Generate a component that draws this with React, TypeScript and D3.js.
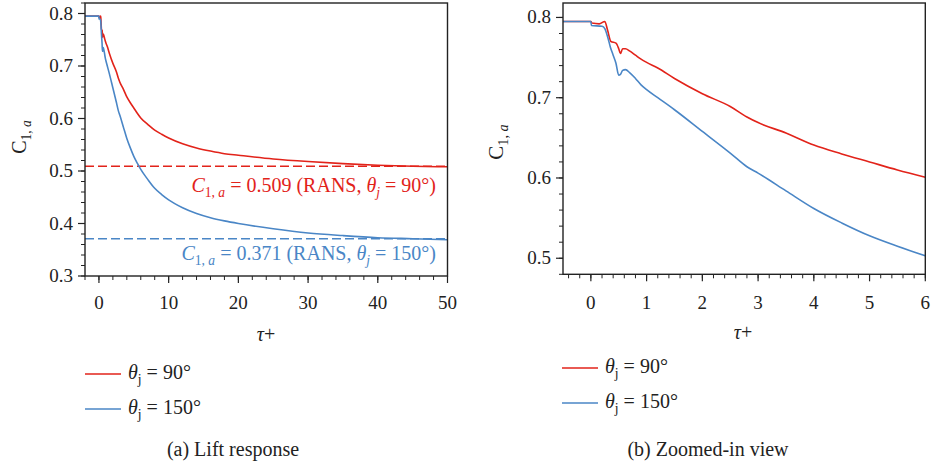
import React from 'react';
import * as d3 from 'd3';

const W = 932;
const H = 466;
const FONT = "'Liberation Serif', 'DejaVu Serif', serif";
const RED = '#e2231a';
const BLUE = '#4a86c6';
const AXIS = '#222';

// lift coefficient, theta_j = 90 deg
const tauRed = [-2, 0, 0.02, 0.15, 0.25, 0.3, 0.36, 0.45, 0.5, 0.53, 0.57, 0.62, 0.7, 0.8, 0.9, 1.0, 1.2, 1.5, 2, 2.5, 2.8, 3, 3.5, 4, 4.5, 5, 5.5, 6, 7, 8, 9, 10, 12, 14, 16, 18, 20, 25, 30, 35, 40, 45, 50];
const liftRed = [0.795, 0.795, 0.793, 0.792, 0.795, 0.784, 0.770, 0.768, 0.761, 0.755, 0.761, 0.761, 0.758, 0.753, 0.748, 0.744, 0.737, 0.724, 0.705, 0.689, 0.676, 0.669, 0.656, 0.641, 0.630, 0.620, 0.610, 0.601, 0.589, 0.578, 0.570, 0.563, 0.552, 0.544, 0.538, 0.533, 0.530, 0.523, 0.518, 0.514, 0.511, 0.509, 0.508];

// lift coefficient, theta_j = 150 deg
const tauBlue = [-2, 0, 0.01, 0.2, 0.25, 0.3, 0.35, 0.4, 0.45, 0.5, 0.53, 0.57, 0.62, 0.7, 0.8, 0.9, 1.0, 1.2, 1.5, 2, 2.5, 2.8, 3, 3.5, 4, 4.5, 5, 5.5, 6, 7, 8, 9, 10, 12, 14, 16, 18, 20, 25, 30, 35, 40, 45, 50];
const liftBlue = [0.795, 0.795, 0.790, 0.789, 0.786, 0.776, 0.763, 0.753, 0.743, 0.728, 0.729, 0.734, 0.735, 0.731, 0.724, 0.716, 0.710, 0.700, 0.685, 0.658, 0.631, 0.614, 0.606, 0.584, 0.562, 0.544, 0.528, 0.515, 0.503, 0.484, 0.467, 0.455, 0.445, 0.430, 0.419, 0.411, 0.405, 0.400, 0.390, 0.382, 0.377, 0.373, 0.371, 0.369];

const ransRed = 0.509;
const ransBlue = 0.371;

const leftXTicks = [0, 10, 20, 30, 40, 50];
const leftYTicks = [0.3, 0.4, 0.5, 0.6, 0.7, 0.8];
const rightXTicks = [0, 1, 2, 3, 4, 5, 6];
const rightYTicks = [0.5, 0.6, 0.7, 0.8];

const redPts = tauRed.map((t, i) => [t, liftRed[i]] as [number, number]);
const bluePts = tauBlue.map((t, i) => [t, liftBlue[i]] as [number, number]);

const SUB = 5;

type PanelProps = {
  id: string;
  xDomain: [number, number];
  yDomain: [number, number];
  xRange: [number, number];
  yRange: [number, number];
  xTicks: number[];
  yTicks: number[];
  xMinor: number[];
  yMinor: number[];
  dashed: boolean;
};

const Panel = (p: PanelProps) => {
  const x = d3.scaleLinear().domain(p.xDomain).range(p.xRange);
  const y = d3.scaleLinear().domain(p.yDomain).range(p.yRange);
  const line = d3.line<[number, number]>()
    .x(d => x(d[0]))
    .y(d => y(d[1]))
    .curve(d3.curveMonotoneX);
  const [x0, x1] = p.xRange;
  const [yb, yt] = p.yRange;
  const clip = `clip-${p.id}`;
  const keep = (pts: [number, number][]) => pts.filter(d => d[0] <= p.xDomain[1] + 1e-9);
  return (
    <g>
      <defs>
        <clipPath id={clip}>
          <rect x={x0} y={yt} width={x1 - x0} height={yb - yt} />
        </clipPath>
      </defs>
      <g clipPath={`url(#${clip})`}>
        {p.dashed && (
          <>
            <line x1={x0} x2={x1} y1={y(ransRed)} y2={y(ransRed)} stroke={RED} strokeWidth={1.4} strokeDasharray="9 4" />
            <line x1={x0} x2={x1} y1={y(ransBlue)} y2={y(ransBlue)} stroke={BLUE} strokeWidth={1.4} strokeDasharray="9 4" />
          </>
        )}
        <path d={line(keep(redPts)) || ''} fill="none" stroke={RED} strokeWidth={1.6} />
        <path d={line(keep(bluePts)) || ''} fill="none" stroke={BLUE} strokeWidth={1.6} />
      </g>
      <rect x={x0} y={yt} width={x1 - x0} height={yb - yt} fill="none" stroke={AXIS} strokeWidth={1.4} />
      {p.xMinor.map(v => (
        <line key={`xm${v}`} x1={x(v)} x2={x(v)} y1={yb} y2={yb + 4} stroke={AXIS} strokeWidth={1} />
      ))}
      {p.xTicks.map(v => (
        <g key={`x${v}`}>
          <line x1={x(v)} x2={x(v)} y1={yb} y2={yb + 7} stroke={AXIS} strokeWidth={1.2} />
          <text x={x(v)} y={309} textAnchor="middle" fontSize={19} fontFamily={FONT} fill="#222">{d3.format('d')(v)}</text>
        </g>
      ))}
      {p.yMinor.map(v => (
        <line key={`ym${v}`} x1={x0 - 4} x2={x0} y1={y(v)} y2={y(v)} stroke={AXIS} strokeWidth={1} />
      ))}
      {p.yTicks.map(v => (
        <g key={`y${v}`}>
          <line x1={x0 - 7} x2={x0} y1={y(v)} y2={y(v)} stroke={AXIS} strokeWidth={1.2} />
          <text x={x0 - 12} y={y(v) + 6} textAnchor="end" fontSize={19} fontFamily={FONT} fill="#222">{d3.format('.1f')(v)}</text>
        </g>
      ))}
    </g>
  );
};

const YLabel = ({ cx, cy, size }: { cx: number; cy: number; size: number }) => (
  <text transform={`translate(${cx},${cy}) rotate(-90)`} textAnchor="middle" fontSize={size} fontFamily={FONT} fill="#222">
    C<tspan dy={SUB} fontSize="0.68em">1, </tspan><tspan fontSize="0.68em" fontStyle="italic">a</tspan>
  </text>
);

const Legend = ({ x, y }: { x: number; y: number }) => (
  <g fontFamily={FONT} fontSize={20} fill="#222">
    <line x1={x} x2={x + 36} y1={y} y2={y} stroke={RED} strokeWidth={1.6} />
    <text x={x + 43} y={y + 5}>
      <tspan fontStyle="italic">θ</tspan><tspan dy={SUB} fontSize="0.68em">j</tspan><tspan dy={-SUB}> = 90°</tspan>
    </text>
    <line x1={x} x2={x + 36} y1={y + 35} y2={y + 35} stroke={BLUE} strokeWidth={1.6} />
    <text x={x + 43} y={y + 40}>
      <tspan fontStyle="italic">θ</tspan><tspan dy={SUB} fontSize="0.68em">j</tspan><tspan dy={-SUB}> = 150°</tspan>
    </text>
  </g>
);

const Annot = ({ x, y, color, value, angle }: { x: number; y: number; color: string; value: string; angle: string }) => (
  <text x={x} y={y} textAnchor="end" fontSize={20} fontFamily={FONT} fill={color}>
    <tspan fontStyle="italic">C</tspan>
    <tspan dy={SUB} fontSize="0.68em">1, </tspan>
    <tspan fontSize="0.68em" fontStyle="italic">a</tspan>
    <tspan dy={-SUB}>{` = ${value} (RANS, `}</tspan>
    <tspan fontStyle="italic">θ</tspan>
    <tspan dy={SUB} fontSize="0.68em" fontStyle="italic">j</tspan>
    <tspan dy={-SUB}>{` = ${angle}°)`}</tspan>
  </text>
);

export default function App() {
  return (
    <svg width={W} height={H} style={{ position: 'absolute', left: 0, top: 0, background: '#fff' }}>
      <rect width={W} height={H} fill="#fff" />
      <Panel
        id="a"
        xDomain={[-2, 50]}
        yDomain={[0.3, 0.82]}
        xRange={[85, 447.5]}
        yRange={[276, 3]}
        xTicks={leftXTicks}
        yTicks={leftYTicks}
        xMinor={d3.range(-2, 50.001, 2)}
        yMinor={d3.range(0.3, 0.8201, 0.02)}
        dashed={true}
      />
      <Annot x={436} y={192} color={RED} value="0.509" angle="90" />
      <Annot x={436} y={260} color={BLUE} value="0.371" angle="150" />
      <YLabel cx={26} cy={137} size={20} />
      <text x={266} y={341} textAnchor="middle" fontSize={20} fontFamily={FONT} fill="#222">
        <tspan fontStyle="italic">τ</tspan>+
      </text>
      <Legend x={85} y={374} />
      <text x={233} y={456} textAnchor="middle" fontSize={20} fontFamily={FONT} fill="#222">(a) Lift response</text>

      <Panel
        id="b"
        xDomain={[-0.5, 6]}
        yDomain={[0.48, 0.818]}
        xRange={[563, 925.3]}
        yRange={[274.3, 3]}
        xTicks={rightXTicks}
        yTicks={rightYTicks}
        xMinor={d3.range(-0.4, 6.001, 0.2)}
        yMinor={d3.range(0.48, 0.8181, 0.02)}
        dashed={false}
      />
      <YLabel cx={503} cy={142} size={21} />
      <text x={743} y={339} textAnchor="middle" fontSize={20} fontFamily={FONT} fill="#222">
        <tspan fontStyle="italic">τ</tspan>+
      </text>
      <Legend x={562} y={368} />
      <text x={708} y={456} textAnchor="middle" fontSize={20} fontFamily={FONT} fill="#222">(b) Zoomed-in view</text>
    </svg>
  );
}
